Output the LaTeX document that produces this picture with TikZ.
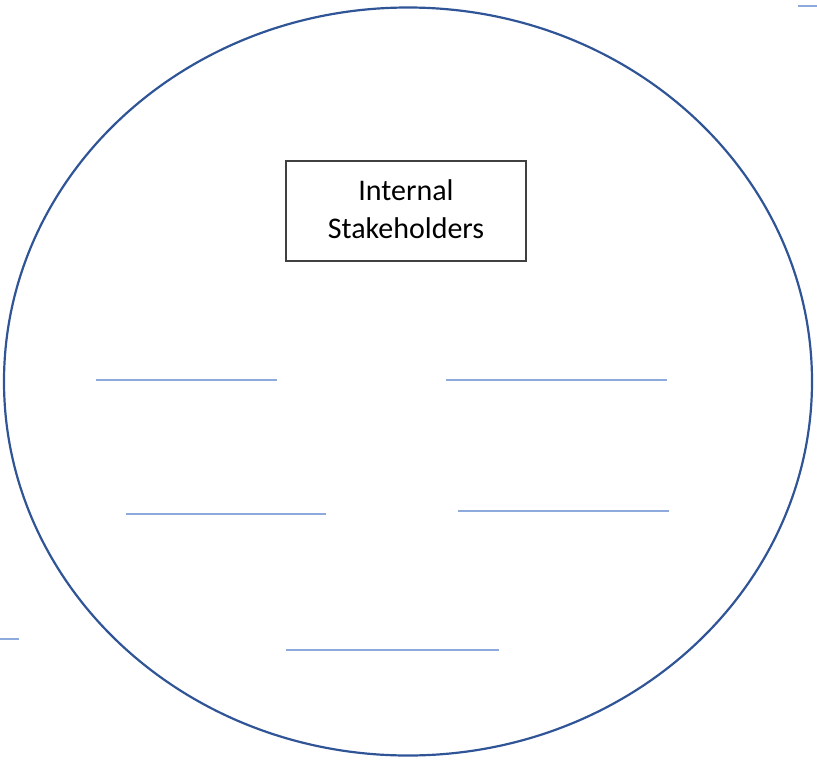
\documentclass[tikz,border=0pt]{standalone}
\usepackage{fontspec}
\setmainfont{Carlito}
\usepackage{tikz}

\definecolor{ringblue}{HTML}{2F5597}
\definecolor{lineblue}{HTML}{8EA9DB}
\definecolor{boxgray}{HTML}{404040}

\begin{document}
\begin{tikzpicture}[x=1pt, y=-1pt,
	every path/.style={line width=2pt},
	blank/.style={draw=lineblue, line width=1.5pt},
	title/.style={draw=boxgray, line width=1.3pt, minimum width=240pt, minimum height=100pt, align=center, font=\fontsize{30}{38}\selectfont}]
			\useasboundingbox (0,0) rectangle (817,761);
			\draw[ringblue, line width=2.2pt] (408,381.5) ellipse [x radius=404, y radius=374];
			
			\node[title] (t) at (406,211){};
			\node[align=center, font=\fontsize{30}{38}\selectfont] (tl) at (406,209){Internal\\Stakeholders};
			
			\coordinate (a1) at (96,380);   \coordinate (a2) at (277,380);
			\coordinate (b1) at (446,380);  \coordinate (b2) at (667,380);
			\coordinate (c1) at (126,514);  \coordinate (c2) at (326,514);
			\coordinate (d1) at (458,511);  \coordinate (d2) at (669,511);
			\coordinate (e1) at (286,650);  \coordinate (e2) at (499,650);
			\coordinate (f1) at (0,639);    \coordinate (f2) at (19,639);
			\coordinate (g1) at (798,6);    \coordinate (g2) at (817,6);
			
			\path[blank] (a1) -- (a2);
			\path[blank] (b1) -- (b2);
			\path[blank] (c1) -- (c2);
			\path[blank] (d1) -- (d2);
			\path[blank] (e1) -- (e2);
			\path[blank] (f1) -- (f2);
			\path[blank] (g1) -- (g2);
			\end{tikzpicture}
\end{document}
